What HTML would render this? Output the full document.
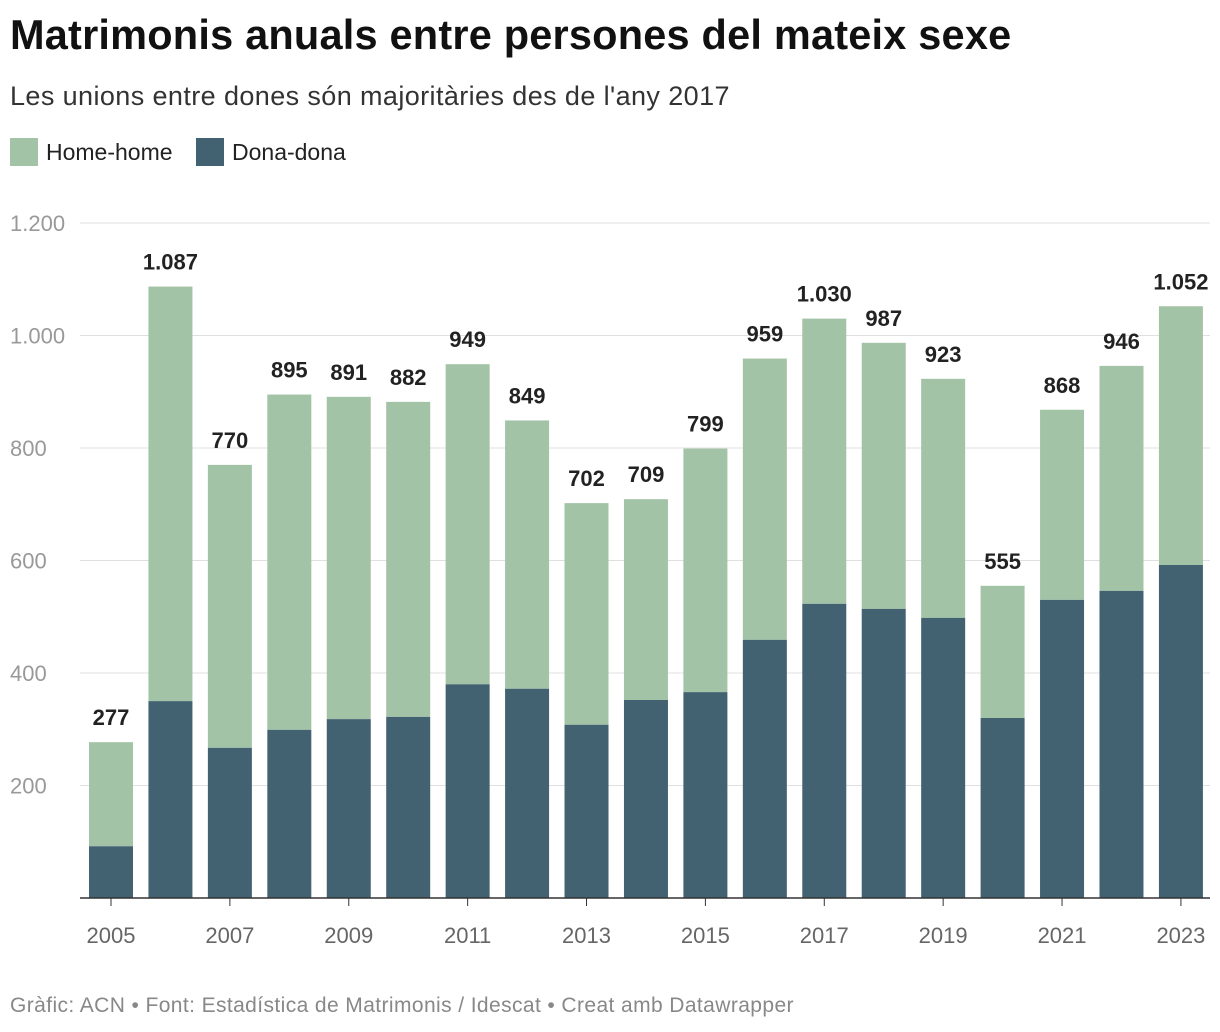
<!DOCTYPE html>
<html><head><meta charset="utf-8"><style>
body{margin:0;background:#fff;font-family:"Liberation Sans",sans-serif;}
#wrap{position:relative;width:1220px;height:1032px;overflow:hidden}
h1{position:absolute;left:10px;top:11px;margin:0;font-size:41.5px;font-weight:bold;color:#111;letter-spacing:0.2px}
.sub{position:absolute;left:10px;top:81px;font-size:27px;color:#333;letter-spacing:0.4px}
.leg{position:absolute;top:138px;font-size:23px;color:#222;display:flex;align-items:center}
.sw{width:28px;height:28px;margin-right:8px;display:inline-block}
.foot{position:absolute;left:10px;top:994px;font-size:21px;color:#888;letter-spacing:0.4px}
</style></head><body><div id="wrap">
<h1>Matrimonis anuals entre persones del mateix sexe</h1>
<div class="sub">Les unions entre dones són majoritàries des de l'any 2017</div>
<div class="leg" style="left:10px"><span class="sw" style="background:#a3c3a6"></span>Home-home</div>
<div class="leg" style="left:196px"><span class="sw" style="background:#426272"></span>Dona-dona</div>
<svg id="svg" width="1220" height="1032" style="position:absolute;left:0;top:0"></svg>
<div class="foot">Gràfic: ACN • Font: Estadística de Matrimonis / Idescat • Creat amb Datawrapper</div>
</div>
<script>
const years=[2005,2006,2007,2008,2009,2010,2011,2012,2013,2014,2015,2016,2017,2018,2019,2020,2021,2022,2023];
const totals=[277,1087,770,895,891,882,949,849,702,709,799,959,1030,987,923,555,868,946,1052];
const donaDona=[92,350,267,299,318,322,380,372,308,352,366,459,523,514,498,320,530,546,592];
const yTicks=[200,400,600,800,1000,1200];
const svg=document.getElementById('svg');const NS='http://www.w3.org/2000/svg';
const y=v=>898-v*0.5625;const x=i=>111+i*59.44;const bw=44;
function mk(t,a){const e=document.createElementNS(NS,t);for(const k in a)e.setAttribute(k,a[k]);svg.appendChild(e);return e;}
const fmt=v=>v>=1000?Math.floor(v/1000)+'.'+String(v%1000).padStart(3,'0'):String(v);
yTicks.forEach(v=>{
 const l=mk('line',{x1:80,x2:1210,y1:y(v),y2:y(v),stroke:'#e0e0e0','stroke-width':1});
 
 
 const t=mk('text',{x:10,y:y(v)+8,'font-size':22,fill:'#999','font-family':'Liberation Sans'});t.textContent=fmt(v);
 
 
});
years.forEach((yr,i)=>{
 const hh=totals[i]-donaDona[i];
 const r1=mk('rect',{x:x(i)-bw/2,y:y(totals[i]),width:bw,height:hh*0.5625,fill:'#a3c3a6'});
 
 
 const r2=mk('rect',{x:x(i)-bw/2,y:y(donaDona[i]),width:bw,height:donaDona[i]*0.5625,fill:'#426272'});
 
 
 const t=mk('text',{x:x(i),y:y(totals[i])-17,'font-size':22,'font-weight':'bold',fill:'#222','text-anchor':'middle','font-family':'Liberation Sans'});t.textContent=fmt(totals[i]);
 
 
 if(i%2==0){
  const tk=mk('line',{x1:x(i),x2:x(i),y1:898,y2:906,stroke:'#333','stroke-width':1});
  
  
  const tl=mk('text',{x:x(i),y:943,'font-size':22,fill:'#666','text-anchor':'middle','font-family':'Liberation Sans'});tl.textContent=yr;
  
  
 }
});
const ax=mk('line',{x1:80,x2:1210,y1:898,y2:898,stroke:'#333','stroke-width':1.5});


</script></body></html>
